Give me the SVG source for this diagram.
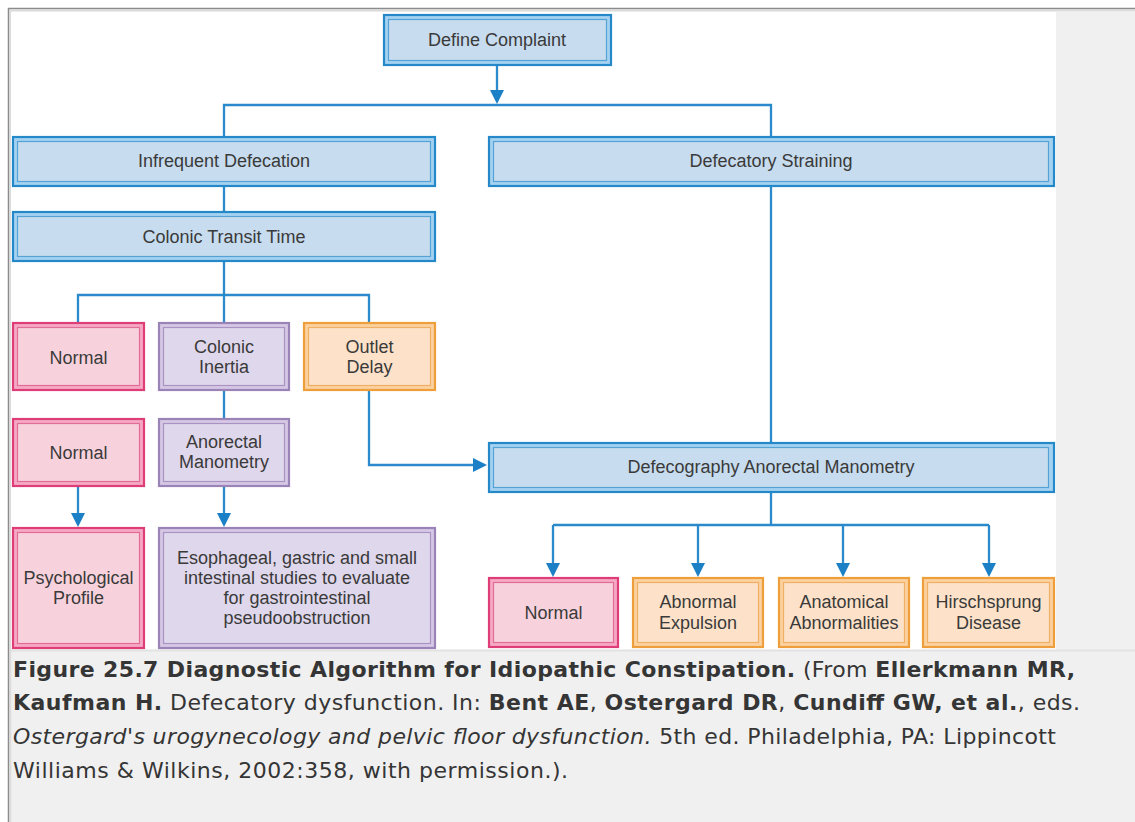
<svg xmlns="http://www.w3.org/2000/svg" width="1135" height="822" viewBox="0 0 1135 822">
  <style>
    .lbl { font-family: "Liberation Sans", Arial, sans-serif; font-size: 18px; fill: #3a3a3a; text-anchor: middle; }
    .blue .o { fill: #a6d2f1; stroke: #2588c9; stroke-width: 2.2; }
    .blue .i { fill: #c7dcee; stroke: #55a3d6; stroke-width: 1.2; }
    .pink .o { fill: #f5a9c5; stroke: #df3d78; stroke-width: 2.2; }
    .pink .i { fill: #f7d2dc; stroke: #e26c96; stroke-width: 1.2; }
    .purple .o { fill: #d6c8e5; stroke: #9a83b6; stroke-width: 2.2; }
    .purple .i { fill: #dfd7eb; stroke: #a893c3; stroke-width: 1.2; }
    .orange .o { fill: #fbd1a0; stroke: #ee9f3b; stroke-width: 2.2; }
    .orange .i { fill: #fde2c9; stroke: #f0b064; stroke-width: 1.2; }
    .conn path { fill: none; stroke: #2a8acb; stroke-width: 2.3; }
    .cap { font-family: "DejaVu Sans", Verdana, sans-serif; font-size: 22px; fill: #353535; }
    .b { font-weight: bold; }
    .it { font-style: italic; }
  </style>
  <defs>
    <marker id="ah" markerUnits="userSpaceOnUse" markerWidth="14" markerHeight="14" refX="11" refY="7" orient="auto">
      <path d="M0,0 L14,7 L0,14 z" fill="#1b80c5"/>
    </marker>
  </defs>

  <!-- page frame -->
  <rect x="0" y="0" width="1135" height="822" fill="#ffffff"/>
  <rect x="8" y="8" width="1127" height="814" fill="#f0f0f0"/>
  <path d="M8.5,822 V8.5 H1135" fill="none" stroke="#8c8c8c" stroke-width="1.5"/>
  <path d="M10.5,822 V10.5 H1135" fill="none" stroke="#dcdcdc" stroke-width="1.5"/>
  <rect x="11" y="12" width="1045" height="638" fill="#ffffff"/>
  <line x1="11" y1="650.5" x2="1135" y2="650.5" stroke="#e2e2e2" stroke-width="2"/>

  <!-- connectors -->
  <g class="conn" id="connectors">
    <path d="M497,66 V101" marker-end="url(#ah)"/>
    <path d="M224,137 V105 H771 V137"/>
    <path d="M224,187 V211"/>
    <path d="M224,262 V295"/>
    <path d="M78,322 V295 H369 V322"/>
    <path d="M224,295 V322"/>
    <path d="M224,391 V418"/>
    <path d="M78,487 V524" marker-end="url(#ah)"/>
    <path d="M224,487 V524" marker-end="url(#ah)"/>
    <path d="M369,391 V465 H484" marker-end="url(#ah)"/>
    <path d="M771,187 V442"/>
    <path d="M771,493 V525"/>
    <path d="M553,525 H989"/>
    <path d="M553,525 V574" marker-end="url(#ah)"/>
    <path d="M698,525 V574" marker-end="url(#ah)"/>
    <path d="M843,525 V574" marker-end="url(#ah)"/>
    <path d="M989,525 V574" marker-end="url(#ah)"/>
  </g>

  <!-- nodes -->
  <g id="define-complaint" class="blue">
    <rect class="o" x="384" y="15" width="227" height="50"/>
    <rect class="i" x="388.5" y="19.5" width="218" height="41"/>
    <text class="lbl" x="497" y="46">Define Complaint</text>
  </g>
  <g id="infrequent-defecation" class="blue">
    <rect class="o" x="13" y="137" width="422" height="49"/>
    <rect class="i" x="17.5" y="141.5" width="413" height="40"/>
    <text class="lbl" x="224" y="167">Infrequent Defecation</text>
  </g>
  <g id="defecatory-straining" class="blue">
    <rect class="o" x="489" y="137" width="565" height="49"/>
    <rect class="i" x="493.5" y="141.5" width="555" height="40"/>
    <text class="lbl" x="771" y="167">Defecatory Straining</text>
  </g>
  <g id="colonic-transit-time" class="blue">
    <rect class="o" x="13" y="212" width="422" height="49"/>
    <rect class="i" x="17.5" y="216.5" width="413" height="40"/>
    <text class="lbl" x="224" y="243">Colonic Transit Time</text>
  </g>
  <g id="normal-transit" class="pink">
    <rect class="o" x="13" y="323" width="131" height="67"/>
    <rect class="i" x="17.5" y="327.5" width="122" height="58"/>
    <text class="lbl" x="78.5" y="364">Normal</text>
  </g>
  <g id="colonic-inertia" class="purple">
    <rect class="o" x="159" y="323" width="130" height="67"/>
    <rect class="i" x="163.5" y="327.5" width="121" height="58"/>
    <text class="lbl" x="224" y="353">Colonic</text>
    <text class="lbl" x="224" y="373">Inertia</text>
  </g>
  <g id="outlet-delay" class="orange">
    <rect class="o" x="304" y="323" width="131" height="67"/>
    <rect class="i" x="308.5" y="327.5" width="122" height="58"/>
    <text class="lbl" x="369.5" y="353">Outlet</text>
    <text class="lbl" x="369.5" y="373">Delay</text>
  </g>
  <g id="normal-manometry" class="pink">
    <rect class="o" x="13" y="419" width="131" height="67"/>
    <rect class="i" x="17.5" y="423.5" width="122" height="58"/>
    <text class="lbl" x="78.5" y="459">Normal</text>
  </g>
  <g id="anorectal-manometry" class="purple">
    <rect class="o" x="159" y="419" width="130" height="67"/>
    <rect class="i" x="163.5" y="423.5" width="121" height="58"/>
    <text class="lbl" x="224" y="448">Anorectal</text>
    <text class="lbl" x="224" y="468">Manometry</text>
  </g>
  <g id="psychological-profile" class="pink">
    <rect class="o" x="13" y="528" width="131" height="120"/>
    <rect class="i" x="17.5" y="532.5" width="122" height="111"/>
    <text class="lbl" x="78.5" y="584">Psychological</text>
    <text class="lbl" x="78.5" y="604">Profile</text>
  </g>
  <g id="gi-studies" class="purple">
    <rect class="o" x="159" y="528" width="276" height="120"/>
    <rect class="i" x="163.5" y="532.5" width="267" height="111"/>
    <text class="lbl" x="297" y="564">Esophageal, gastric and small</text>
    <text class="lbl" x="297" y="584">intestinal studies to evaluate</text>
    <text class="lbl" x="297" y="604">for gastrointestinal</text>
    <text class="lbl" x="297" y="624">pseudoobstruction</text>
  </g>
  <g id="defecography" class="blue">
    <rect class="o" x="489" y="443" width="565" height="49"/>
    <rect class="i" x="493.5" y="447.5" width="555" height="40"/>
    <text class="lbl" x="771" y="473">Defecography Anorectal Manometry</text>
  </g>
  <g id="normal-defecography" class="pink">
    <rect class="o" x="489" y="578" width="129" height="69"/>
    <rect class="i" x="493.5" y="582.5" width="120" height="60"/>
    <text class="lbl" x="553.5" y="619">Normal</text>
  </g>
  <g id="abnormal-expulsion" class="orange">
    <rect class="o" x="633" y="578" width="130" height="69"/>
    <rect class="i" x="637.5" y="582.5" width="121" height="60"/>
    <text class="lbl" x="698" y="608">Abnormal</text>
    <text class="lbl" x="698" y="629">Expulsion</text>
  </g>
  <g id="anatomical-abnormalities" class="orange">
    <rect class="o" x="779" y="578" width="130" height="69"/>
    <rect class="i" x="783.5" y="582.5" width="121" height="60"/>
    <text class="lbl" x="844" y="608">Anatomical</text>
    <text class="lbl" x="844" y="629">Abnormalities</text>
  </g>
  <g id="hirschsprung-disease" class="orange">
    <rect class="o" x="923" y="578" width="131" height="69"/>
    <rect class="i" x="927.5" y="582.5" width="122" height="60"/>
    <text class="lbl" x="988.5" y="608">Hirschsprung</text>
    <text class="lbl" x="988.5" y="629">Disease</text>
  </g>

  <!-- caption -->
  <g id="caption" class="cap">
    <text x="13" y="677" textLength="1062" lengthAdjust="spacing"><tspan class="b">Figure 25.7 Diagnostic Algorithm for Idiopathic Constipation.</tspan> (From <tspan class="b">Ellerkmann MR,</tspan></text>
    <text x="13" y="710" textLength="1067" lengthAdjust="spacing"><tspan class="b">Kaufman H.</tspan> Defecatory dysfunction. In: <tspan class="b">Bent AE</tspan>, <tspan class="b">Ostergard DR</tspan>, <tspan class="b">Cundiff GW, et al.</tspan>, eds.</text>
    <text x="13" y="744" textLength="1043" lengthAdjust="spacing"><tspan class="it">Ostergard's urogynecology and pelvic floor dysfunction.</tspan> 5th ed. Philadelphia, PA: Lippincott</text>
    <text x="13" y="778" textLength="555" lengthAdjust="spacing">Williams &amp; Wilkins, 2002:358, with permission.).</text>
  </g>
</svg>
